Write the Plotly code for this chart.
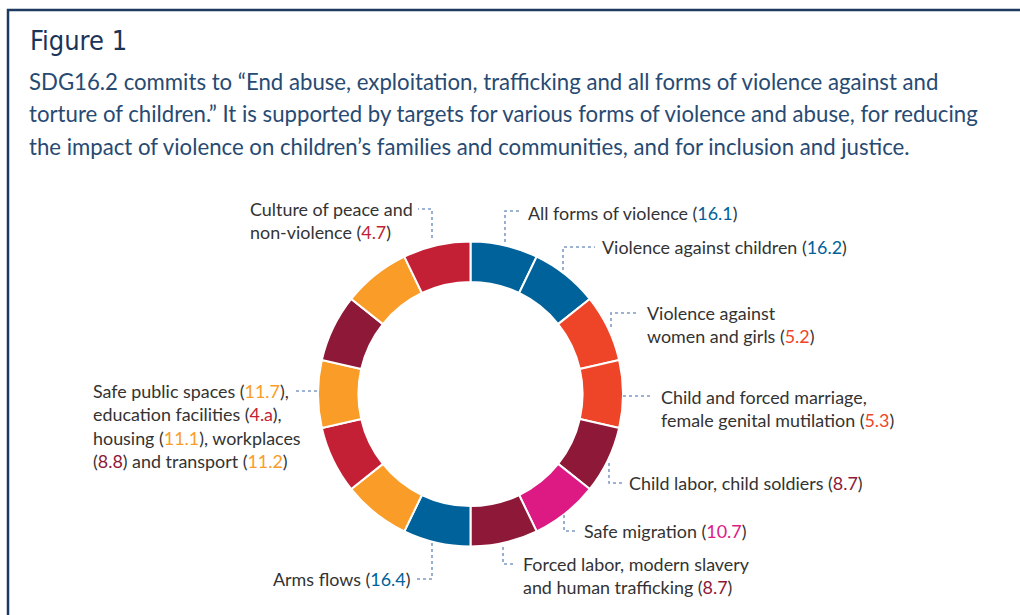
import plotly.graph_objects as go

# ---------------- data ----------------
segments = [
    "All forms of violence", "Violence against children",
    "Violence against women and girls",
    "Child and forced marriage, female genital mutilation",
    "Child labor, child soldiers", "Safe migration",
    "Forced labor, modern slavery and human trafficking", "Arms flows",
    "Safe public spaces", "Education facilities", "Housing", "Workplaces",
    "Transport", "Culture of peace and non-violence",
]
targets = ["16.1", "16.2", "5.2", "5.3", "8.7", "10.7", "8.7", "16.4",
           "11.7", "4.a", "11.1", "8.8", "11.2", "4.7"]
shares = [1, 1, 1, 1, 1, 1, 1, 1, 1, 1, 1, 1, 1, 1]
goal_colors = {"16": "#00629A", "5": "#EE4529", "8": "#8E1838",
               "10": "#DD1A84", "11": "#F99D28", "4": "#C31F35"}

title_text = "Figure 1"
body_lines = [
    "SDG16.2 commits to \u201cEnd abuse, exploitation, trafficking and all forms of violence against and",
    "torture of children.\u201d It is supported by targets for various forms of violence and abuse, for reducing",
    "the impact of violence on children\u2019s families and communities, and for inclusion and justice.",
]

label_lines = [
    ["All forms of violence ({0})"],
    ["Violence against children ({0})"],
    ["Violence against", "women and girls ({0})"],
    ["Child and forced marriage,", "female genital mutilation ({0})"],
    ["Child labor, child soldiers ({0})"],
    ["Safe migration ({0})"],
    ["Forced labor, modern slavery", "and human trafficking ({0})"],
    ["Arms flows ({0})"],
    ["Safe public spaces ({0}),", "education facilities ({1}),",
     "housing ({2}), workplaces", "({3}) and transport ({4})"],
    ["Culture of peace and", "non-violence ({0})"],
]
label_targets = [[0], [1], [2], [3], [4], [5], [6], [7], [8, 9, 10, 11, 12], [13]]

# ---------------- layout constants (pixels) ----------------
W, H = 1020, 615
CX, CY, R = 470.5, 394.0, 152.5
HOLE = 0.735
label_pos = [
    (526, 213, "left", 23), (600, 247, "left", 23), (645, 313, "left", 23),
    (659, 397, "left", 23), (627, 483, "left", 23), (582, 531, "left", 23),
    (521, 564, "left", 23), (412, 579, "right", 23), (91, 391, "left", 23.3),
    (248, 209, "left", 23),
]
leader_paths = [
    "M505,242 V211 H519", "M563,270 V247 H595", "M611,327 V313 H638",
    "M623,396 H653", "M609,463 V483 H622", "M564,515 V531 H578",
    "M503,547 V564 H515", "M432,543 V579 H417", "M317,391 H293",
    "M432,238 V209 H418",
]


def px(x):
    return x / W


def py(y):
    return 1 - y / H


def goal_of(t):
    return t.split(".")[0]


slice_colors = [goal_colors[goal_of(t)] for t in targets]

fig = go.Figure(go.Pie(
    labels=segments, values=shares, sort=False, direction="clockwise",
    rotation=0, hole=HOLE, textinfo="none", hoverinfo="label",
    marker=dict(colors=slice_colors, line=dict(color="white", width=2)),
    domain=dict(x=[px(CX - R), px(CX + R)], y=[py(CY + R), py(CY - R)]),
    showlegend=False,
))

annotations = []
annotations.append(dict(
    x=px(28), y=py(41), xref="paper", yref="paper", xanchor="left",
    yanchor="middle", showarrow=False, text=title_text,
    font=dict(family="Liberation Sans Narrow, DejaVu Sans Condensed, Roboto", size=27,
              color="#1A3458", weight=500),
))
for i, line in enumerate(body_lines):
    annotations.append(dict(
        x=px(27), y=py(82 + 32 * i), xref="paper", yref="paper",
        xanchor="left", yanchor="middle", showarrow=False, text=line,
        font=dict(family="Lato", size=22.2, color="#274A72"),
    ))

for lines, tidx, (x0, y0, anch, gap) in zip(label_lines, label_targets, label_pos):
    spans = ["<span style='color:%s'>%s</span>" % (goal_colors[goal_of(targets[k])], targets[k])
             for k in tidx]
    k = 0
    for j, ln in enumerate(lines):
        n = ln.count("{")
        txt = ln
        for m in range(n):
            txt = txt.replace("{%d}" % (k + m), spans[k + m])
        k += n
        annotations.append(dict(
            x=px(x0), y=py(y0 + gap * j), xref="paper", yref="paper",
            xanchor=anch, yanchor="middle", showarrow=False, text=txt,
            font=dict(family="Lato", size=17.9, color="#333333"),
        ))

shapes = [dict(type="rect", xref="paper", yref="paper", x0=px(8), y0=py(10),
               x1=px(1040), y1=py(640), line=dict(color="#1D3B61", width=2.5))]
for p in leader_paths:
    out = []
    for tok in p.split():
        c, vals = tok[0], tok[1:]
        if c == "M":
            a, b = vals.split(",")
            out.append("M%f,%f" % (px(float(a)), py(float(b))))
        elif c == "V":
            out.append("V%f" % py(float(vals)))
        elif c == "H":
            out.append("H%f" % px(float(vals)))
    shapes.append(dict(type="path", xref="paper", yref="paper", path=" ".join(out),
                       line=dict(color="#7F9BC4", width=1.6, dash="dot")))

fig.update_layout(
    width=W, height=H, margin=dict(l=0, r=0, t=0, b=0),
    paper_bgcolor="white", plot_bgcolor="white",
    annotations=annotations, shapes=shapes,
)
fig.write_html("out.html", config={"displayModeBar": False},
               post_script="document.body.style.margin='0';document.body.style.overflow='hidden';")
